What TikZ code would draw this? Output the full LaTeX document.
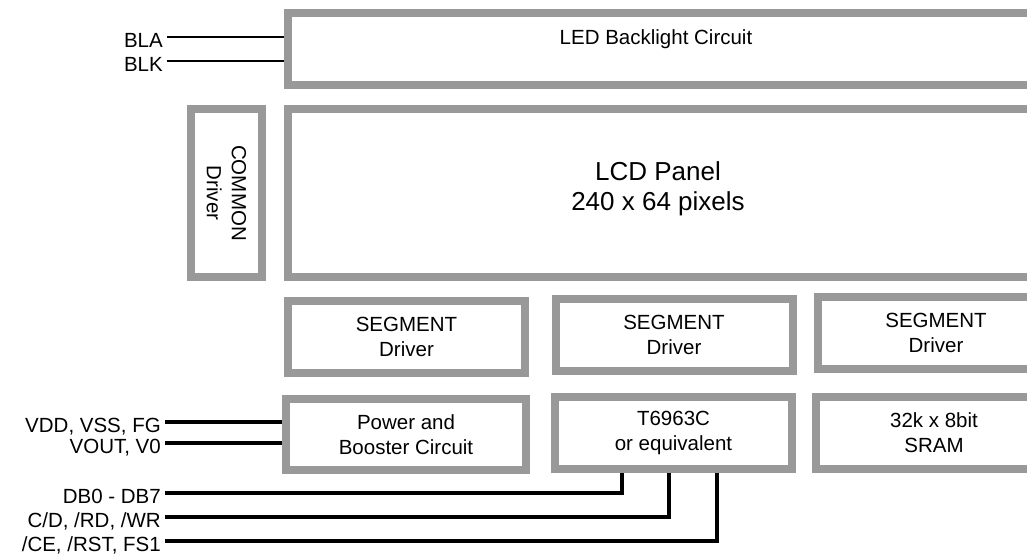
\documentclass[tikz,border=0pt]{standalone}
\usepackage{fontspec}
\setmainfont{Liberation Sans}
\definecolor{boxgray}{RGB}{153,153,153}
\begin{document}
\begin{tikzpicture}[x=1pt,y=-1pt,
    blk/.style={draw=boxgray,line width=8pt,fill=white,inner sep=0pt,align=center,font=\fontsize{20.5}{25}\selectfont},
    pin/.style={anchor=east,inner xsep=4pt,inner ysep=0pt,text height=20pt,text depth=0pt,font=\fontsize{20.5}{25}\selectfont},
    wire/.style={line width=3.2pt}]
    \useasboundingbox (0,0) rectangle (1027,555);
    \clip (0,0) rectangle (1027,555);
    % panel and backlight
    \node[blk,minimum width=745pt,minimum height=72pt] (led) at (660,49) {};
    \node[anchor=north,inner sep=0pt,font=\fontsize{20.5}{25}\selectfont] (ledtxt) at (656,29.5) {LED Backlight Circuit};
    \node[blk,minimum width=745pt,minimum height=168pt] (lcd) at (660,193) {};
    \node[anchor=north,inner sep=0pt,align=center,font=\fontsize{26}{30}\selectfont] (lcdtxt) at (658,161.5) {LCD Panel\\240 x 64 pixels};
    \node[blk,minimum width=168pt,minimum height=71pt,rotate=-90] (com) at (226.5,193) {COMMON\\Driver};
    % drivers and controller
    \foreach \n/\x/\y in {1/406.5/337,2/674/335,3/936/333}{\node[blk,minimum width=237pt,minimum height=72pt] (seg\n) at (\x,\y) {SEGMENT\\Driver};}
    \node[blk,minimum width=240pt,minimum height=71pt] (pwr) at (406,434.5) {Power and\\Booster Circuit};
    \node[blk,minimum width=237pt,minimum height=72pt] (ctl) at (673.5,433) {T6963C\\or equivalent};
    \node[blk,minimum width=236pt,minimum height=72pt] (ram) at (934,433) {32k x 8bit\\SRAM};
    % pins
    \node[pin] (bla) at (167,37) {BLA};
    \node[pin] (blk) at (167,61) {BLK};
    \draw[line width=2pt] (bla.east) -- (bla.east -| led.west);
    \draw[line width=2pt] (blk.east) -- (blk.east -| led.west);
    \node[pin] (vdd) at (165,422) {VDD, VSS, FG};
    \node[pin] (vout) at (165,443) {VOUT, V0};
    \draw[wire] (vdd.east) -- (vdd.east -| pwr.west);
    \draw[wire] (vout.east) -- (vout.east -| pwr.west);
    \node[pin] (db) at (165,493) {DB0 - DB7};
    \node[pin] (cd) at (165,517) {C/D, /RD, /WR};
    \node[pin] (ce) at (165,541) {/CE, /RST, FS1};
    \draw[wire] (db.east) -| ([xshift=-51.5pt]ctl.south);
    \draw[wire] (cd.east) -| ([xshift=-4.5pt]ctl.south);
    \draw[wire] (ce.east) -| ([xshift=43.5pt]ctl.south);
\end{tikzpicture}
\end{document}
